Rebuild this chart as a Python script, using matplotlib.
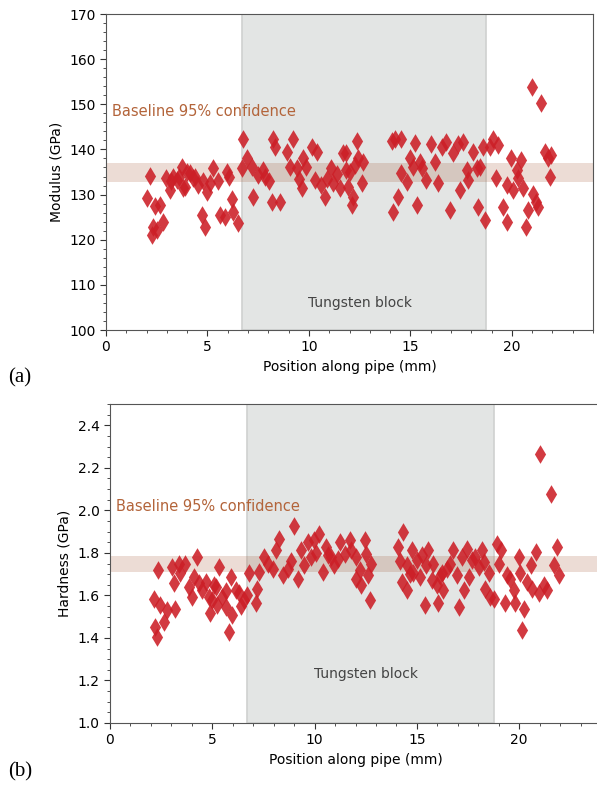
import numpy as np
import matplotlib
matplotlib.use('Agg')
import matplotlib.pyplot as plt
from matplotlib.ticker import MultipleLocator

# Panel (a): modulus readings along the pipe
mod_pos = [2.17, 2.03, 2.41, 2.66, 2.33, 2.49, 2.25, 2.83, 2.96, 3.15, 3.32, 3.48, 3.73, 3.89,
           4.14, 4.30, 4.55, 4.71, 4.88, 5.12, 5.29, 5.62, 5.86, 5.94, 6.19, 6.27, 6.52, 6.76,
           6.93, 6.68, 7.26, 7.50, 7.75, 8.16, 8.24, 8.32, 8.57, 8.90, 9.06, 9.23, 9.39, 9.64,
           9.72, 9.88, 10.13, 10.38, 10.30, 10.62, 10.79, 11.11, 11.20, 11.53, 11.69, 11.85,
           11.85, 12.02, 11.94, 12.18, 12.10, 12.35, 12.43, 12.68, 12.60, 14.07, 14.23, 14.56,
           14.15, 14.40, 14.56, 14.81, 14.98, 15.22, 15.14, 15.31, 15.47, 15.55, 15.79, 16.04,
           16.21, 16.37, 16.54, 16.78, 16.95, 17.11, 17.36, 17.44, 17.60, 17.77, 17.85, 18.10,
           18.26, 18.34, 18.42, 18.59, 18.67, 18.92, 19.08, 19.33, 19.24, 19.57, 19.74, 19.74,
           19.98, 20.06, 20.23, 20.31, 20.44, 20.56, 20.72, 20.80, 20.97, 21.05, 21.21, 21.29,
           21.43, 21.63, 21.79, 21.87, 21.95,
           3.20, 3.60, 4.00, 4.40, 4.80, 5.00, 5.50, 6.05, 3.80, 7.20, 7.85, 8.05, 9.50, 10.90,
           11.40, 12.25]
mod_val = [134.1, 129.3, 127.4, 127.6, 122.8, 122.1, 121.0, 124.0, 133.6, 131.0, 133.9, 133.2,
           136.1, 131.7, 134.7, 133.6, 132.1, 125.4, 122.8, 132.5, 135.8, 125.4, 125.1, 135.0,
           129.1, 126.2, 123.6, 142.4, 138.0, 135.8, 129.5, 134.3, 135.4, 128.4, 142.4, 140.6,
           128.4, 139.5, 136.1, 142.4, 135.8, 131.4, 138.0, 136.1, 140.6, 139.5, 133.2, 132.1,
           129.5, 135.8, 132.5, 131.4, 139.1, 135.4, 139.1, 135.0, 131.7, 129.5, 127.6, 141.8,
           138.0, 137.3, 132.5, 141.8, 142.4, 142.2, 126.2, 129.5, 134.7, 132.8, 138.0, 141.5,
           136.1, 127.6, 137.3, 135.8, 133.2, 141.3, 137.3, 132.5, 140.6, 141.7, 126.5, 139.1,
           141.3, 131.0, 141.7, 135.4, 133.2, 139.5, 135.8, 127.3, 136.1, 140.6, 124.3, 140.6,
           142.4, 141.0, 133.6, 127.3, 132.1, 124.0, 138.0, 131.0, 135.4, 133.6, 137.6, 131.4,
           122.8, 126.5, 153.9, 130.2, 128.4, 127.3, 150.3, 139.5, 138.0, 133.9, 138.7,
           133.0, 134.0, 135.0, 134.0, 133.0, 130.5, 133.0, 134.0, 131.5, 136.0, 134.0, 133.0,
           133.5, 133.5, 134.5, 136.5]

# Panel (b): hardness readings along the pipe
hard_pos = [2.13, 2.21, 2.29, 2.37, 2.46, 2.62, 2.78, 3.03, 3.12, 3.20, 3.36, 3.44, 3.68, 3.85,
            4.02, 4.10, 4.26, 4.34, 4.51, 4.67, 4.83, 4.91, 5.07, 5.25, 5.33, 5.49, 5.65, 5.81,
            5.90, 5.98, 6.14, 6.30, 6.55, 6.80, 7.12, 7.20, 7.29, 7.53, 7.70, 7.95, 8.11, 8.27,
            8.44, 8.69, 9.01, 9.17, 9.34, 9.50, 9.66, 9.83, 9.99, 10.24, 10.41, 10.56, 10.81,
            10.97, 11.22, 11.47, 11.71, 11.79, 12.03, 12.20, 12.03, 12.29, 12.45, 12.53, 12.61,
            12.78, 12.69, 14.08, 14.33, 14.25, 14.50, 14.50, 14.74, 14.82, 14.99, 15.15, 15.23,
            15.39, 15.47, 15.56, 15.73, 15.81, 15.97, 16.05, 16.21, 16.30, 16.46, 16.63, 16.79,
            16.96, 17.04, 17.20, 17.28, 17.44, 17.53, 17.69, 17.86, 18.02, 18.18, 18.26, 18.35,
            18.51, 18.59, 18.75, 18.91, 19.09, 19.01, 19.33, 19.41, 19.57, 19.74, 19.82, 19.98,
            20.06, 20.14, 20.23, 20.40, 20.56, 20.64, 20.80, 20.96, 21.04, 21.22, 21.38, 21.57,
            21.70, 21.87, 21.95,
            4.97, 5.17, 5.68, 6.39, 6.70, 8.83, 10.05, 10.65, 11.16, 14.16, 14.66, 16.13]
hard_val = [1.585, 1.452, 1.405, 1.718, 1.554, 1.476, 1.531, 1.734, 1.656, 1.538, 1.750, 1.703,
            1.750, 1.640, 1.593, 1.687, 1.781, 1.656, 1.624, 1.663, 1.593, 1.515, 1.648, 1.554,
            1.734, 1.593, 1.546, 1.429, 1.687, 1.507, 1.624, 1.609, 1.577, 1.703, 1.562, 1.632,
            1.710, 1.781, 1.750, 1.726, 1.812, 1.867, 1.695, 1.726, 1.925, 1.679, 1.812, 1.742,
            1.851, 1.781, 1.859, 1.891, 1.710, 1.828, 1.781, 1.742, 1.851, 1.797, 1.859, 1.812,
            1.781, 1.718, 1.679, 1.648, 1.859, 1.797, 1.695, 1.750, 1.577, 1.828, 1.898, 1.663,
            1.624, 1.742, 1.812, 1.703, 1.765, 1.687, 1.789, 1.554, 1.742, 1.812, 1.671, 1.750,
            1.648, 1.562, 1.703, 1.624, 1.726, 1.750, 1.812, 1.695, 1.546, 1.781, 1.624, 1.820,
            1.687, 1.765, 1.781, 1.734, 1.812, 1.757, 1.632, 1.703, 1.593, 1.585, 1.843, 1.812,
            1.750, 1.562, 1.695, 1.679, 1.624, 1.562, 1.781, 1.703, 1.437, 1.538, 1.663, 1.742,
            1.632, 1.804, 1.609, 2.266, 1.648, 1.624, 2.078, 1.742, 1.828, 1.695,
            1.580, 1.640, 1.620, 1.550, 1.600, 1.760, 1.800, 1.790, 1.770, 1.760, 1.700, 1.690]

block_start, block_end = 6.7, 18.75
mod_band = (132.8, 137.0)
hard_band = (1.71, 1.785)

W, H = 597, 787
fig = plt.figure(figsize=(W / 100, H / 100), dpi=100)

def px_axes(left, top, right, bottom):
    return fig.add_axes([left / W, 1 - bottom / H, (right - left) / W, (bottom - top) / H])

def draw_panel(ax, pos, val, band, ylim, ymaj, ymin, ylabel, base_y, tung_y):
    ax.axvspan(block_start, block_end, facecolor='#e3e5e4', edgecolor='#cfd1d0', lw=1.2, zorder=0)
    ax.axhspan(band[0], band[1], color='sienna', alpha=0.2, lw=0, zorder=1)
    ax.scatter(pos, val, marker='d', s=90, color='#cc1f27', alpha=0.88, lw=0, zorder=2)
    ax.set_xlim(0, 24)
    ax.set_ylim(*ylim)
    ax.xaxis.set_major_locator(MultipleLocator(5))
    ax.xaxis.set_minor_locator(MultipleLocator(1))
    ax.yaxis.set_major_locator(MultipleLocator(ymaj))
    ax.yaxis.set_minor_locator(MultipleLocator(ymin))
    ax.tick_params(which='major', length=4, labelsize=10, color='#333333')
    ax.tick_params(which='minor', length=2, color='#333333')
    for s in ax.spines.values():
        s.set_color('#555555')
    ax.set_xlabel('Position along pipe (mm)', fontsize=10)
    ax.set_ylabel(ylabel, fontsize=10)
    ax.text(0.3, base_y, 'Baseline 95% confidence', color='#b3643a', fontsize=10.5, va='center')
    ax.text(12.5, tung_y, 'Tungsten block', color='#444444', fontsize=10, ha='center', va='center')

ax1 = px_axes(106, 14, 593, 330)
draw_panel(ax1, mod_pos, mod_val, mod_band, (100, 170), 10, 2, 'Modulus (GPa)', 148.3, 106)

ax2 = px_axes(110, 404, 601, 723)
draw_panel(ax2, hard_pos, hard_val, hard_band, (1.0, 2.5), 0.2, 0.05, 'Hardness (GPa)', 2.02, 1.23)

fig.text(8 / W, 1 - 378 / H, '(a)', family='Liberation Serif', fontsize=15, va='center')
fig.text(8 / W, 1 - 772 / H, '(b)', family='Liberation Serif', fontsize=15, va='center')

fig.savefig('out.png', dpi=100)
